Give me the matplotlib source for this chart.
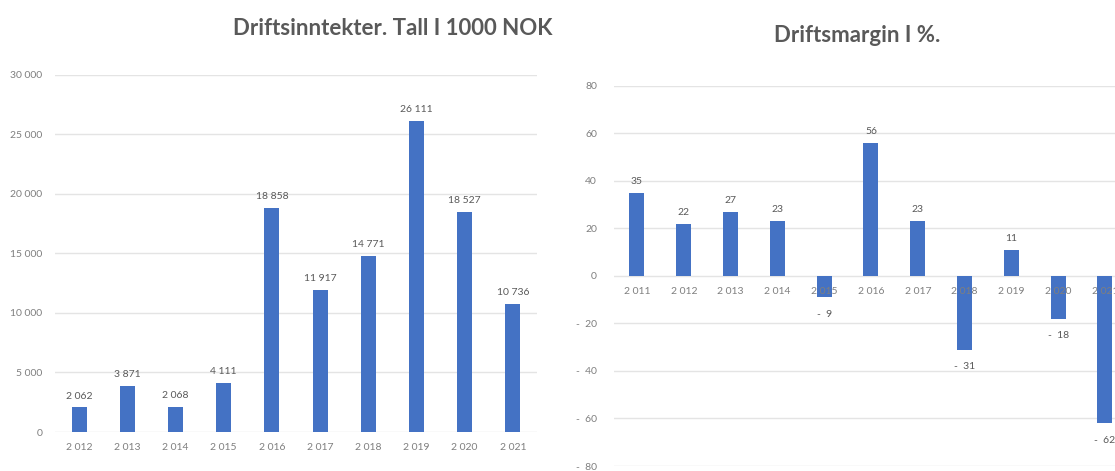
import numpy as np
import matplotlib
matplotlib.use("Agg")
import matplotlib.pyplot as plt
from matplotlib.ticker import FuncFormatter, MultipleLocator

# driftsinntekter (1000 NOK)
years_inn = ["2 012", "2 013", "2 014", "2 015", "2 016",
             "2 017", "2 018", "2 019", "2 020", "2 021"]
inntekter = [2062, 3871, 2068, 4111, 18858, 11917, 14771, 26111, 18527, 10736]

# driftsmargin (%)
years_margin = ["2 011", "2 012", "2 013", "2 014", "2 015", "2 016",
                "2 017", "2 018", "2 019", "2 020", "2 021"]
margin = [35, 22, 27, 23, -9, 56, 23, -31, 11, -18, -62]

BAR = "#4472C4"
TXT = "#595959"
TICK = "#7f7f7f"
GRID = "#e4e4e4"

plt.rcParams["font.family"] = ["Lato", "DejaVu Sans"]


def space_thousands(v):
    return f"{v:,.0f}".replace(",", " ")


def acct(v):
    # regnskapsformat: minus med mellomrom
    if v < 0:
        return f"-  {abs(v):.0f}"
    return f"{v:.0f}"


def style_axes(ax, step):
    for s in ax.spines.values():
        s.set_visible(False)
    ax.yaxis.set_major_locator(MultipleLocator(step))
    # rutenett under søylene, men årstallene over
    lo, hi = ax.get_ylim()
    for y in np.arange(lo, hi + step / 2, step):
        ax.axhline(y, color=GRID, linewidth=1.0, zorder=0.5)
    ax.tick_params(axis="both", length=0, labelsize=7.5, colors=TICK)
    ax.tick_params(axis="x", pad=8)


fig = plt.figure(figsize=(11.15, 4.71), dpi=100)

# venstre: driftsinntekter
ax1 = fig.add_axes([0.0493, 0.0828, 0.4323, 0.7580])
x1 = np.arange(len(inntekter))
ax1.bar(x1, inntekter, width=0.31, color=BAR, zorder=1)
ax1.set_xlim(-0.5, len(inntekter) - 0.5)
ax1.set_ylim(0, 30000)
style_axes(ax1, 5000)
ax1.yaxis.set_major_formatter(FuncFormatter(lambda v, p: space_thousands(v)))
ax1.set_xticks(x1)
ax1.set_xticklabels(years_inn)
ax1.tick_params(axis="y", pad=9)
for xi, v in zip(x1, inntekter):
    ax1.annotate(space_thousands(v), (xi, v), xytext=(0, 5), textcoords="offset points",
                 ha="center", va="bottom", fontsize=7.5, color=TXT)
fig.text(0.352, 0.94, "Driftsinntekter. Tall I 1000 NOK", ha="center", va="center",
         fontsize=16, fontweight="bold", color=TXT)

# høyre: driftsmargin
ax2 = fig.add_axes([0.5503, 0.0106, 0.4617, 0.8070])
x2 = np.arange(len(margin))
ax2.bar(x2, margin, width=0.32, color=BAR, zorder=1)
ax2.set_xlim(-0.5, len(margin) - 0.5)
ax2.set_ylim(-80, 80)
style_axes(ax2, 20)
ax2.yaxis.set_major_formatter(FuncFormatter(lambda v, p: acct(v)))
ax2.set_xticks(x2)
ax2.set_xticklabels(years_margin)
# årstall langs nullinjen
ax2.spines["bottom"].set_position(("data", 0))
ax2.tick_params(axis="y", pad=12)
for xi, v in zip(x2, margin):
    off = 5 if v >= 0 else -9
    ax2.annotate(acct(v), (xi, v), xytext=(0, off), textcoords="offset points",
                 ha="center", va="bottom" if v >= 0 else "top", fontsize=7.5, color=TXT)
fig.text(0.769, 0.925, "Driftsmargin I %.", ha="center", va="center",
         fontsize=16, fontweight="bold", color=TXT)

fig.savefig("out.png", dpi=100)
